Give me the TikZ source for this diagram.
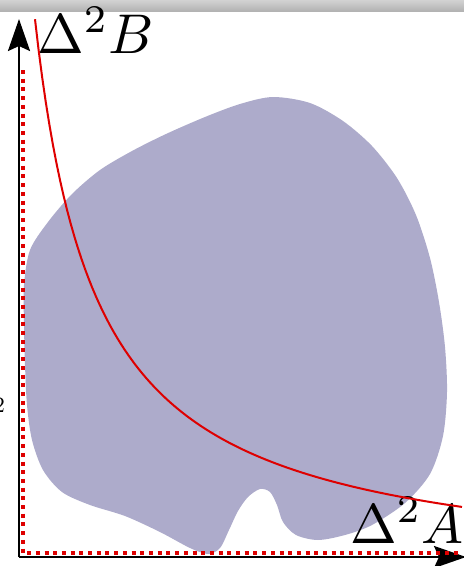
\documentclass[tikz,border=0pt]{standalone}
\usepackage{amsmath}
\usetikzlibrary{arrows.meta}
\definecolor{blobcol}{RGB}{173,171,203}
\definecolor{curvered}{RGB}{222,0,0}

\begin{document}
\begin{tikzpicture}[x=1pt,y=-1pt,>={Stealth[length=32pt,width=22pt,inset=5pt]},
	axis/.style={->,line width=2.4pt,black},
	bound/.style={line width=4pt,curvered,dash pattern=on 4pt off 4.7pt},
	lbl/.style={inner sep=0pt}]
		\useasboundingbox (0,0) rectangle (464,566);
		\shade[top color=gray!35,bottom color=gray!60] (0,0) rectangle (464,11);

		\fill[blobcol] plot[smooth cycle] coordinates {
			(273,97) (310,103) (343,121) (372,146) (397,178) (416,215)
			(430,258) (439,302) (445,347) (447,392) (443,436) (430,474)
			(405,503) (372,525) (345,535) (318,540) (296,535) (283,522)
			(277,505) (270,492) (260,489) (248,497) (238,511) (229,530)
			(220,548) (208,554) (190,548) (160,532) (125,516) (90,505)
			(62,492) (43,470) (32,440) (27,405) (25,365) (24,325)
			(24,285) (30,250) (48,222) (72,194) (100,170) (132,151)
			(166,134) (205,117) (240,104)};

		\node[lbl,anchor=base west] (lblB) at (37,53) {\scalebox{5.6}{$\Delta^2B$}};
		\node[lbl,anchor=base west] (lblA) at (350,543) {\scalebox{5.6}{$\Delta^2A$}};
		\node[lbl,anchor=base east] (lbltwo) at (5,412) {\scalebox{2.2}{2}};

		\coordinate (O) at (19,557);
		\coordinate (xend) at (466,557);
		\coordinate (yend) at (19,19);
		\draw[axis] (O) -- (xend);
		\draw[axis] (O) -- (yend);

		\coordinate (btop) at (23,70);
		\coordinate (bcorner) at (23,553);
		\coordinate (bright) at (462,553);
		\draw[bound] (btop) -- (bcorner) -- (bright);

		\draw[curvered,line width=2pt] plot[domain=35:462,samples=120]
			(\x,{577.5-345/((\x+26.8)/100)});
\end{tikzpicture}
\end{document}
